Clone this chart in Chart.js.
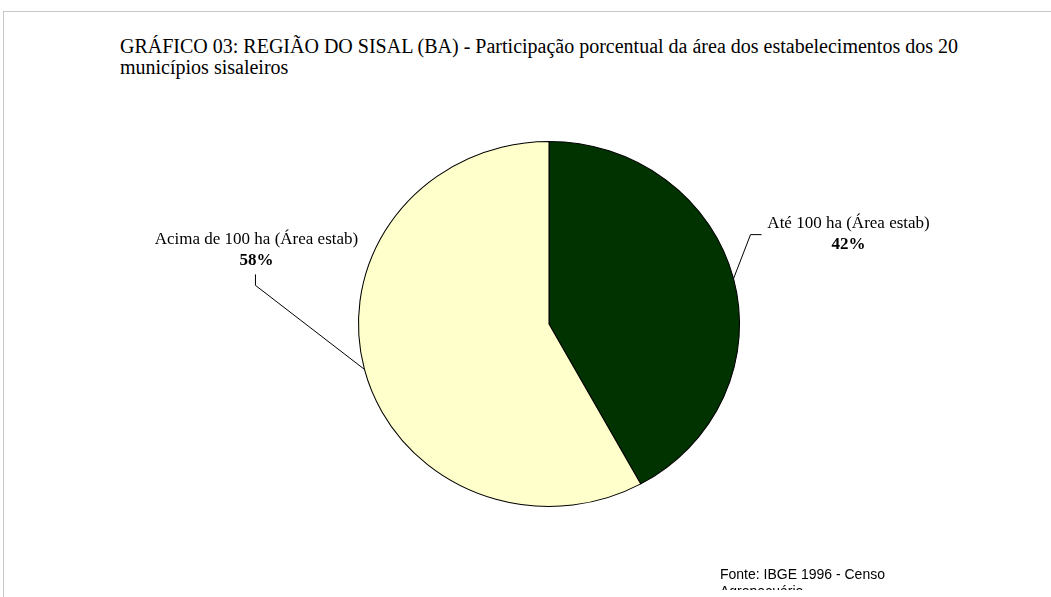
<!DOCTYPE html>
<html>
<head>
<meta charset="utf-8">
<script src="https://cdn.jsdelivr.net/npm/chart.js@4.4.1/dist/chart.umd.min.js"></script>
<style>
  html, body { margin: 0; padding: 0; background: #fff; overflow: hidden; }
  #wrap { position: relative; width: 1051px; height: 597px; }
  #frame { position: absolute; left: 3px; top: 11px; width: 1100px; height: 700px;
           border-top: 1px solid #c8c8c8; border-left: 1px solid #c8c8c8; }
  #title { position: absolute; left: 120px; top: 36px; font-family: "Liberation Serif", serif;
           font-size: 20px; line-height: 21px; color: #000; white-space: nowrap; }
  #fonte { position: absolute; left: 720px; top: 566px; height: 24px; overflow: hidden;
           font-family: "Liberation Sans", Arial, sans-serif;
           font-size: 14px; line-height: 17px; color: #000; white-space: nowrap; }
  canvas { position: absolute; left: 0; top: 0; }
</style>
</head>
<body>
<div id="wrap">
  <div id="frame"></div>
  <div id="title">GRÁFICO 03: REGIÃO DO SISAL (BA) - Participação porcentual da área dos estabelecimentos dos 20<br>municípios sisaleiros</div>
  <canvas id="chartPie" width="1051" height="597"></canvas>
  <div id="fonte">Fonte: IBGE 1996 - Censo<br>Agropecuário</div>
</div>
<script>
// dados
const categorias = ["Até 100 ha (Área estab)", "Acima de 100 ha (Área estab)"];
const valores = [42, 58];
const cores = ["#003300", "#FFFFCC"];

const STRETCH_X = 1.044; // pizza levemente oval como no original

// distorce só a pizza na horizontal
const ovalPlugin = {
    id: "oval",
    beforeDatasetsDraw(chart) {
        const arc = chart.getDatasetMeta(0).data[0];
        const ctx = chart.ctx;
        ctx.save();
        ctx.translate(arc.x, arc.y);
        ctx.scale(STRETCH_X, 1);
        ctx.translate(-arc.x, -arc.y);
    },
    afterDatasetsDraw(chart) {
        chart.ctx.restore();
    }
};

// rótulos com linhas de chamada
const labelPlugin = {
    id: "rotulos",
    afterDraw(chart) {
        const ctx = chart.ctx;
        const meta = chart.getDatasetMeta(0);
        const total = valores.reduce((a, b) => a + b, 0);

        meta.data.forEach((arc, i) => {
            const mid = (arc.startAngle + arc.endAngle) / 2;
            const ax = arc.x + Math.cos(mid) * arc.outerRadius * STRETCH_X;
            const ay = arc.y + Math.sin(mid) * arc.outerRadius;
            const right = Math.cos(mid) > 0;

            let elbow, end, tx, ty;
            if (right) {
                elbow = [ax + 17, ay - 44];
                end = [ax + 28, ay - 44];
                tx = ax + 115; ty = ay - 55;
            } else {
                elbow = [ax - 109, ay - 84];
                end = [ax - 109, ay - 95];
                tx = ax - 108; ty = ay - 130;
            }

            ctx.save();
            ctx.strokeStyle = "#000";
            ctx.lineWidth = 1;
            ctx.beginPath();
            ctx.moveTo(ax, ay);
            ctx.lineTo(elbow[0], elbow[1]);
            ctx.lineTo(end[0], end[1]);
            ctx.stroke();

            ctx.fillStyle = "#000";
            ctx.textAlign = "center";
            ctx.textBaseline = "middle";
            ctx.font = "17px 'Liberation Serif', serif";
            ctx.fillText(categorias[i], tx, ty);
            ctx.font = "bold 17px 'Liberation Serif', serif";
            ctx.fillText(Math.round(valores[i] / total * 100) + "%", tx, ty + 21);
            ctx.restore();
        });
    }
};

const chartPie = new Chart(document.getElementById("chartPie"), {
    type: "pie",
    data: {
        labels: categorias,
        datasets: [{
            data: valores,
            backgroundColor: cores,
            borderColor: "#000",
            borderWidth: 1
        }]
    },
    options: {
        responsive: false,
        animation: false,
        layout: { padding: { left: 366, right: 319, top: 141, bottom: 90 } },
        plugins: {
            legend: { display: false },
            tooltip: { enabled: false }
        }
    },
    plugins: [ovalPlugin, labelPlugin]
});
</script>
</body>
</html>
